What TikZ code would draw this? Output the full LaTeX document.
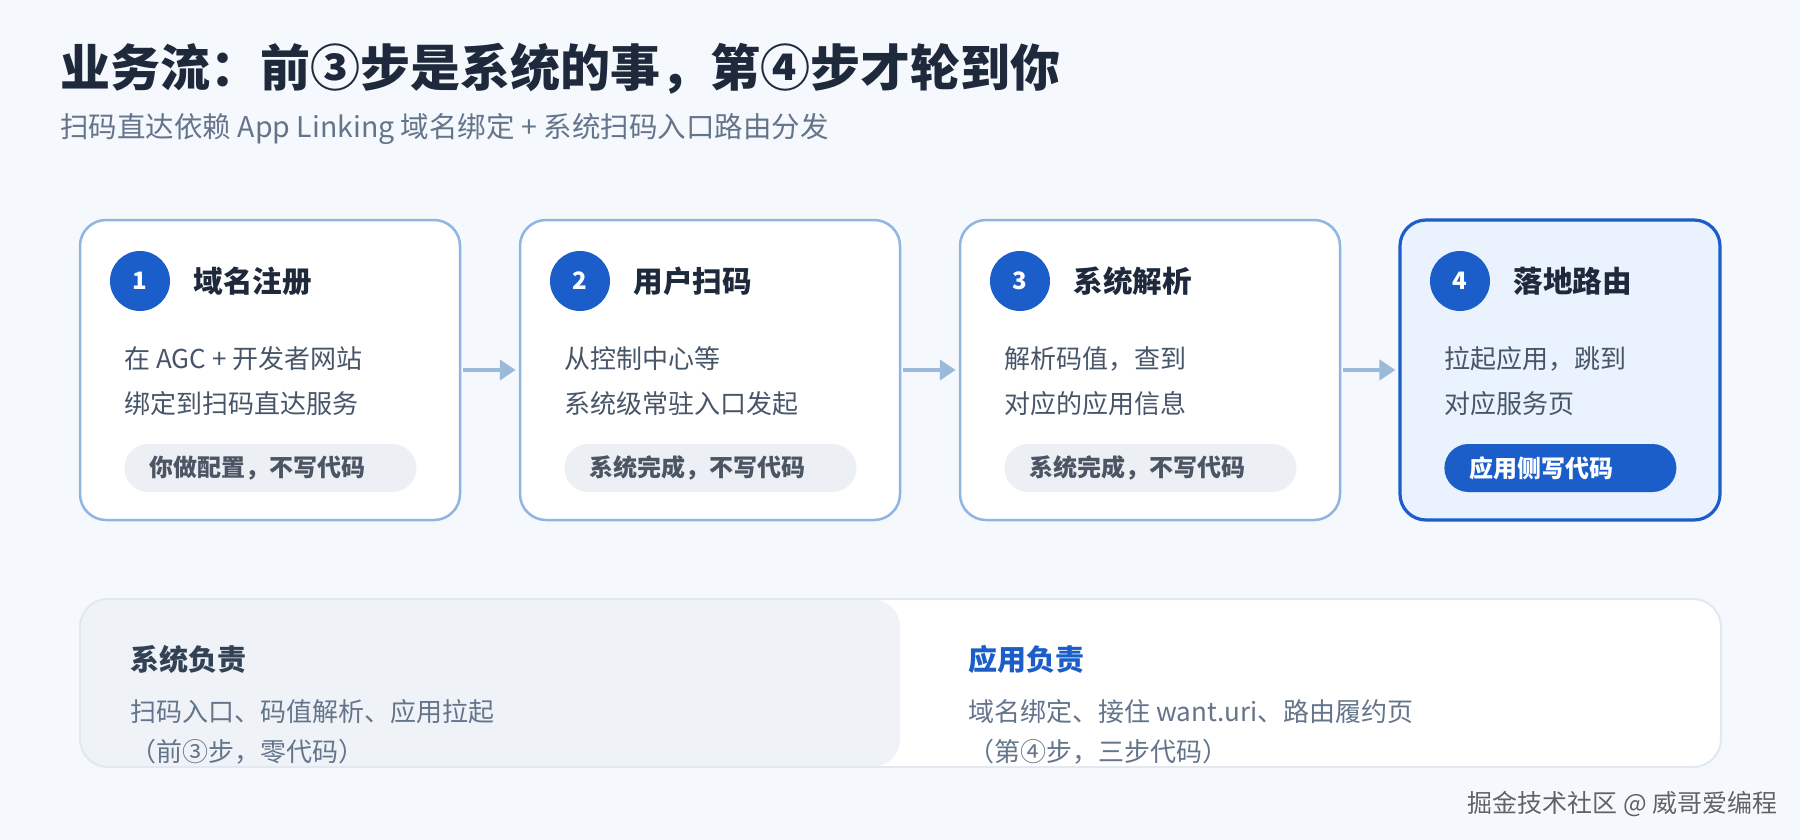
\documentclass[tikz,border=0pt]{standalone}
\usepackage{fontspec}
\setmainfont{Noto Sans CJK SC}
\usetikzlibrary{arrows.meta}
\definecolor{bgc}{HTML}{F5F8FC}
\definecolor{titlec}{HTML}{1E293B}
\definecolor{subc}{HTML}{64748B}
\definecolor{bodyc}{HTML}{475569}
\definecolor{cardb}{HTML}{8FB5E3}
\definecolor{blue}{HTML}{1B5EC9}
\definecolor{card4f}{HTML}{E9F2FD}
\definecolor{pillf}{HTML}{ECEFF3}
\definecolor{pillt}{HTML}{4B5563}
\definecolor{arrowc}{HTML}{9BBAD9}
\definecolor{panelb}{HTML}{E1E8F0}
\definecolor{panell}{HTML}{EFF3F7}
\definecolor{panelh}{HTML}{334155}
\definecolor{wmc}{HTML}{5F6368}
\tikzset{
  txt/.style={inner sep=0pt, anchor=west},
  maintitle/.style={txt, text=titlec, font=\fontsize{25pt}{30pt}\selectfont\bfseries},
  subtitle/.style={txt, text=subc, font=\fontsize{14.25pt}{17pt}\selectfont},
  card/.style={draw=cardb, line width=1.25pt, fill=white, rounded corners=13pt, minimum width=190pt, minimum height=150pt, inner sep=0pt},
  cardhi/.style={card, draw=blue, line width=1.6pt, fill=card4f, minimum width=160pt},
  num/.style={circle, fill=blue, text=white, minimum size=30pt, inner sep=0pt, font=\fontsize{12pt}{14pt}\selectfont\bfseries},
  cardtitle/.style={txt, text=titlec, font=\fontsize{14.8pt}{17pt}\selectfont\bfseries},
  body/.style={txt, text=bodyc, font=\fontsize{13pt}{16pt}\selectfont},
  pill/.style={anchor=west, fill=pillf, rounded corners=12pt, minimum width=146pt, minimum height=24pt, inner sep=0pt},
  pillhi/.style={pill, fill=blue, minimum width=116pt},
  pilltext/.style={txt, text=pillt, font=\fontsize{12pt}{14pt}\selectfont\bfseries},
  pilltexthi/.style={pilltext, text=white},
  flow/.style={draw=arrowc, line width=2pt, -{Triangle[length=8pt, width=10pt]}, shorten >=1.5pt, shorten <=1pt},
  panelhead/.style={txt, text=panelh, font=\fontsize{14.5pt}{17pt}\selectfont\bfseries},
  paneltext/.style={txt, text=subc, font=\fontsize{13pt}{16pt}\selectfont},
  watermark/.style={txt, text=wmc, font=\fontsize{12.5pt}{14pt}\selectfont}
}
\begin{document}
\begin{tikzpicture}[x=0.5pt,y=-0.5pt]
\fill[bgc] (0,0) rectangle (1800,840);
\useasboundingbox (0,0) rectangle (1800,840);

% heading
\node[maintitle] (title) at (60,69) {业务流：前③步是系统的事，第④步才轮到你};
\node[subtitle] (sub) at (60,129) {扫码直达依赖 App Linking 域名绑定 + 系统扫码入口路由分发};

% cards
\node[card] (c1) at (270,370) {};
\node[card] (c2) at (710,370) {};
\node[card] (c3) at (1150,370) {};
\node[cardhi] (c4) at (1560,370) {};

% card 1
\node[num] (n1) at (140,281) {1};
\node[cardtitle] (t1) at (193,281) {域名注册};
\node[body] (b1a) at (124,359) {在 AGC + 开发者网站};
\node[body] (b1b) at (124,404) {绑定到扫码直达服务};
\node[pill] (p1) at (124,468) {};
\node[pilltext] (q1) at (149,468) {你做配置，不写代码};

% card 2
\node[num] (n2) at (580,281) {2};
\node[cardtitle] (t2) at (633,281) {用户扫码};
\node[body] (b2a) at (564,359) {从控制中心等};
\node[body] (b2b) at (564,404) {系统级常驻入口发起};
\node[pill] (p2) at (564,468) {};
\node[pilltext] (q2) at (589,468) {系统完成，不写代码};

% card 3
\node[num] (n3) at (1020,281) {3};
\node[cardtitle] (t3) at (1073,281) {系统解析};
\node[body] (b3a) at (1004,359) {解析码值，查到};
\node[body] (b3b) at (1004,404) {对应的应用信息};
\node[pill] (p3) at (1004,468) {};
\node[pilltext] (q3) at (1029,468) {系统完成，不写代码};

% card 4
\node[num] (n4) at (1460,281) {4};
\node[cardtitle] (t4) at (1513,281) {落地路由};
\node[body] (b4a) at (1444,359) {拉起应用，跳到};
\node[body] (b4b) at (1444,404) {对应服务页};
\node[pillhi] (p4) at (1444,468) {};
\node[pilltexthi] (q4) at (1469,468) {应用侧写代码};

% arrows
\draw[flow] (c1.east) -- (c2.west);
\draw[flow] (c2.east) -- (c3.west);
\draw[flow] (c3.east) -- (c4.west);

% bottom panel
\fill[white, rounded corners=14pt] (80,599) rectangle (1721,767);
\fill[panell, rounded corners=14pt] (80,599) rectangle (900,767);
\draw[panelb, line width=1pt, rounded corners=14pt] (80,599) rectangle (1721,767);

\node[panelhead] (h1) at (130,659) {系统负责};
\node[paneltext] (l1a) at (130,712) {扫码入口、码值解析、应用拉起};
\node[paneltext] (l1b) at (130,752) {（前③步，零代码）};

\node[panelhead, text=blue] (h2) at (968,659) {应用负责};
\node[paneltext] (l2a) at (968,712) {域名绑定、接住 want.uri、路由履约页};
\node[paneltext] (l2b) at (968,752) {（第④步，三步代码）};

% watermark
\node[watermark, text=white] (wmshadow) at (1468.5,805.5) {掘金技术社区 @ 威哥爱编程};
\node[watermark] (wm) at (1467,804) {掘金技术社区 @ 威哥爱编程};
\end{tikzpicture}
\end{document}
